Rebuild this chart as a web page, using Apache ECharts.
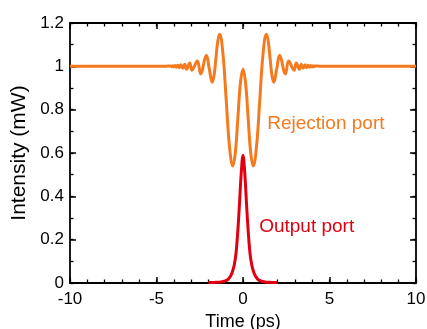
<!DOCTYPE html>
<html>
<head>
<meta charset="utf-8">
<script src="https://cdn.jsdelivr.net/npm/echarts@6/dist/echarts.min.js"></script>
<style>
  html, body { margin: 0; padding: 0; background: #fff; }
  #chart { width: 427px; height: 329px; }
</style>
</head>
<body>
<div id="chart"></div>
<script>
// time (ps) / intensity (mW)
const rejectionTime = [
  -10, -4.5, -4.17, -4.11, -4.05, -3.99, -3.92, -3.85, -3.77, -3.68, -3.59, -3.48,
  -3.37, -3.26, -3.08, -2.95, -2.64, -2.45, -2.12, -1.95, -1.78, -1.67, -1.565, -1.46,
  -1.35, -1.16, -0.97, -0.78, -0.59, -0.44, -0.295, -0.15, 0,
  0.15, 0.295, 0.44, 0.59, 0.78, 0.97, 1.16, 1.35, 1.46, 1.565, 1.67, 1.78, 1.95,
  2.12, 2.45, 2.64, 2.95, 3.08, 3.26, 3.37, 3.48, 3.59, 3.68, 3.77, 3.85, 3.92,
  3.99, 4.05, 4.11, 4.17, 4.5, 10
];
const rejectionPower = [
  1, 1, 1.002, 0.998, 1.003, 0.997, 1.004, 0.996, 1.005, 0.994, 1.007, 0.991,
  1.01, 0.987, 1.015, 0.982, 1.025, 0.965, 1.051, 0.989, 0.927, 0.96, 1.037, 1.115,
  1.148, 1.059, 0.844, 0.629, 0.54, 0.605, 0.764, 0.922, 0.987,
  0.922, 0.764, 0.605, 0.54, 0.629, 0.844, 1.059, 1.148, 1.115, 1.037, 0.96, 0.927, 0.989,
  1.051, 0.965, 1.025, 0.982, 1.015, 0.987, 1.01, 0.991, 1.007, 0.994, 1.005, 0.996, 1.004,
  0.997, 1.003, 0.998, 1.002, 1, 1
];
const outputTime = [
  -2, -1.5, -1.2, -1, -0.85, -0.7, -0.6, -0.5, -0.4, -0.3, -0.2, -0.1, 0,
  0.1, 0.2, 0.3, 0.4, 0.5, 0.6, 0.7, 0.85, 1, 1.2, 1.5, 2
];
const outputPower = [
  0.002, 0.003, 0.006, 0.01, 0.018, 0.035, 0.055, 0.085, 0.14, 0.24, 0.37, 0.51, 0.589,
  0.51, 0.37, 0.24, 0.14, 0.085, 0.055, 0.035, 0.018, 0.01, 0.006, 0.003, 0.002
];
// where the two curve labels sit (time, intensity)
const rejectionLabelAt = [1.4, 0.735];
const outputLabelAt = [0.93, 0.26];

const xRange = { min: -10, max: 10, major: 5, minor: 1 };
const yRange = { min: 0, max: 1.2, major: 0.2, minor: 0.1 };

const orange = '#F47A1F';
const red = '#E00010';
const font = 'Liberation Sans, Arial, sans-serif';
const ink = '#000';
const plotRect = { left: 70, right: 11, top: 23, bottom: 46 };

const chart = echarts.init(document.getElementById('chart'), null, { renderer: 'canvas' });

function frameAxis(range, pos) {
  return {
    type: 'value',
    gridIndex: 0,
    position: pos,
    min: range.min, max: range.max, interval: range.major,
    axisLine: { show: true, onZero: false, lineStyle: { color: ink, width: 1.8 } },
    axisTick: { show: true, inside: true, length: 6, lineStyle: { color: ink, width: 1.5 } },
    splitLine: { show: false },
    axisLabel: { show: false },
  };
}

const xMain = frameAxis(xRange, 'bottom');
xMain.axisLabel = { show: true, color: ink, fontSize: 17, fontFamily: font, margin: 8 };
xMain.name = 'Time (ps)';
xMain.nameLocation = 'middle';
xMain.nameGap = 21;
xMain.nameTextStyle = { color: ink, fontSize: 18, fontFamily: font };

const yMain = frameAxis(yRange, 'left');
yMain.axisLabel = { show: true, color: ink, fontSize: 17, fontFamily: font, margin: 6 };
yMain.name = 'Intensity (mW)';
yMain.nameLocation = 'middle';
yMain.nameGap = 36;
yMain.nameTextStyle = { color: ink, fontSize: 21, fontFamily: font };

const grids = [Object.assign({ outerBoundsMode: 'none', containLabel: false }, plotRect)];
const xAxes = [xMain, frameAxis(xRange, 'top')];
const yAxes = [yMain, frameAxis(yRange, 'right')];
const stripSeries = [];

// short inward ticks: thin grids whose split lines act as minor ticks
const strips = [
  { side: 'bottom', range: xRange, len: 3.5 },
  { side: 'top', range: xRange, len: 3.5 },
  { side: 'left', range: yRange, len: 3.5 },
  { side: 'right', range: yRange, len: 3.5 },
];
strips.forEach((s) => {
  const gi = grids.length;
  const horizontal = s.side === 'bottom' || s.side === 'top';
  const g = { outerBoundsMode: 'none', containLabel: false };
  if (horizontal) {
    g.left = plotRect.left; g.right = plotRect.right; g.height = s.len;
  } else {
    g.top = plotRect.top; g.bottom = plotRect.bottom; g.width = s.len;
  }
  g[s.side] = plotRect[s.side];
  grids.push(g);
  const tickAxis = {
    type: 'value', gridIndex: gi,
    min: s.range.min, max: s.range.max, interval: s.range.minor,
    axisLine: { show: false }, axisTick: { show: false }, axisLabel: { show: false },
    splitLine: { show: true, lineStyle: { color: ink, width: 1.3 } },
  };
  const blankAxis = { type: 'value', gridIndex: gi, min: 0, max: 1, show: false, splitLine: { show: false } };
  xAxes.push(horizontal ? tickAxis : blankAxis);
  yAxes.push(horizontal ? blankAxis : tickAxis);
  stripSeries.push({
    type: 'line', xAxisIndex: gi + 1, yAxisIndex: gi + 1,
    data: [[horizontal ? s.range.min : 0, horizontal ? 0 : s.range.min]],
    showSymbol: false, silent: true, lineStyle: { opacity: 0 },
  });
});

function curveLabel(text, at, color) {
  return {
    symbol: 'circle', symbolSize: 0.1, silent: true,
    itemStyle: { color: 'rgba(0,0,0,0)' },
    label: { show: true, position: 'right', distance: 0, color: color, fontSize: 19, fontFamily: font, formatter: text },
    data: [{ coord: at }],
  };
}

chart.setOption({
  animation: false,
  grid: grids,
  xAxis: xAxes,
  yAxis: yAxes,
  series: [
    {
      name: 'Rejection port',
      type: 'line',
      xAxisIndex: 0, yAxisIndex: 0,
      data: rejectionTime.map((t, i) => [t, rejectionPower[i]]),
      smooth: 0.4,
      showSymbol: false,
      lineStyle: { color: orange, width: 3 },
      markPoint: curveLabel('Rejection port', rejectionLabelAt, orange),
    },
    {
      name: 'Output port',
      type: 'line',
      xAxisIndex: 0, yAxisIndex: 0,
      data: outputTime.map((t, i) => [t, outputPower[i]]),
      smooth: 0.4,
      showSymbol: false,
      lineStyle: { color: red, width: 3 },
      markPoint: curveLabel('Output port', outputLabelAt, red),
    },
  ].concat(stripSeries),
});
</script>
</body>
</html>
